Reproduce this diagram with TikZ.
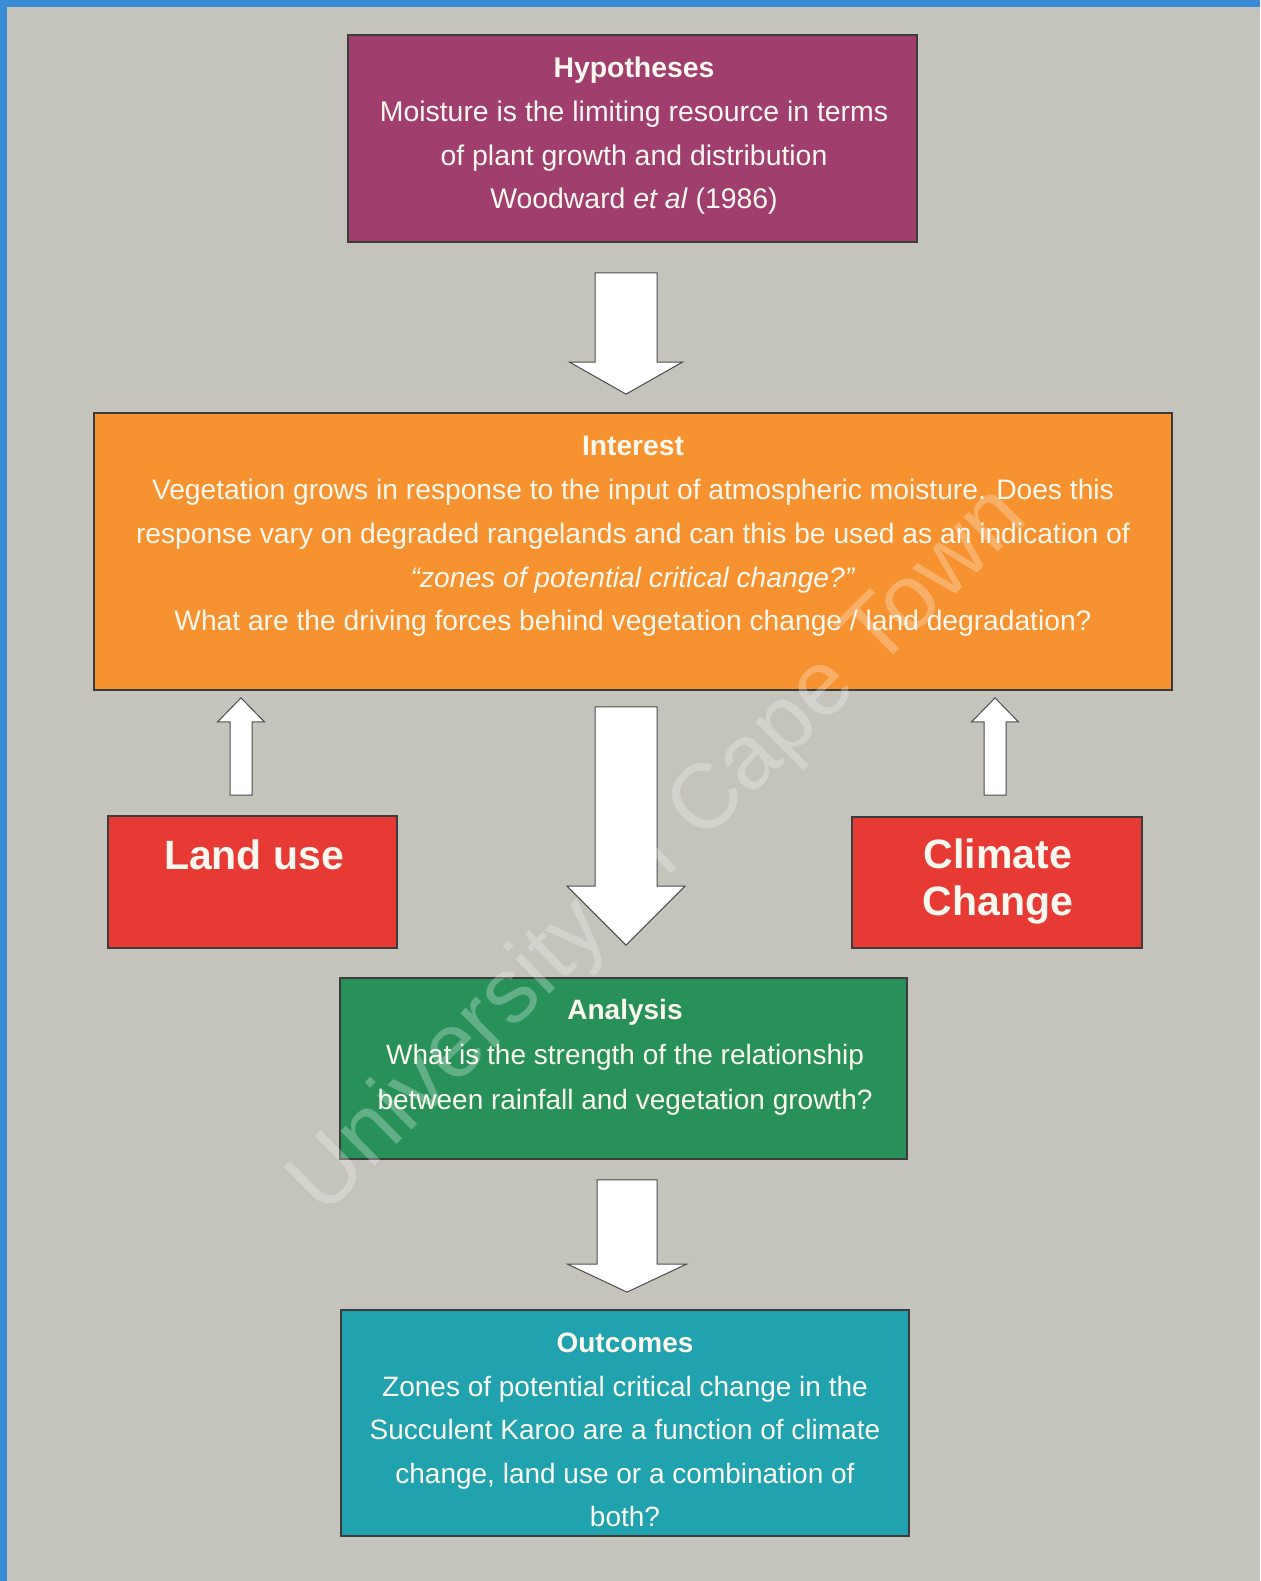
\documentclass[tikz,border=0pt]{standalone}
\usepackage{fontspec}
\setmainfont{Liberation Sans}
\usetikzlibrary{calc}
\definecolor{bg}{RGB}{196,195,188}
\definecolor{bordblue}{RGB}{58,140,215}
\definecolor{hypc}{RGB}{160,62,110}
\definecolor{intc}{RGB}{246,146,48}
\definecolor{redc}{RGB}{232,58,52}
\definecolor{grnc}{RGB}{40,145,90}
\definecolor{tealc}{RGB}{32,163,174}
\definecolor{edge}{RGB}{60,60,60}
\definecolor{txt}{RGB}{252,248,240}
\newcommand\blkarrow[5]{%
  \draw[blk] let \p1=(#1), \p2=(#2) in
    ({\x1-#3*0.5pt},{\y1}) -- ({\x1+#3*0.5pt},{\y1}) -- ({\x1+#3*0.5pt},{\y2+(#5)*0.5pt})
    -- ({\x1+#4*0.5pt},{\y2+(#5)*0.5pt}) -- ({\x1},{\y2}) -- ({\x1-#4*0.5pt},{\y2+(#5)*0.5pt})
    -- ({\x1-#3*0.5pt},{\y2+(#5)*0.5pt}) -- cycle;}
\begin{document}
\begin{tikzpicture}[x=0.5pt,y=-0.5pt,
  box/.style={draw=edge,line width=0.9pt,inner sep=0pt},
  body/.style={text=txt,align=center,inner sep=0pt,font=\fontsize{14}{21.8}\selectfont},
  big/.style={text=txt,align=center,inner sep=0pt,font=\bfseries\fontsize{20.5}{23.5}\selectfont},
  blk/.style={fill=white,draw=gray!60!black,line width=0.5pt,line join=miter}]
\useasboundingbox (0,0) rectangle (1260,1581);
\fill[bg] (0,0) rectangle (1260,1581);
\fill[bordblue] (0,0) rectangle (1260,7);
\fill[bordblue] (0,0) rectangle (7,1581);

% boxes
\node[box,fill=hypc,minimum width=284.5pt,minimum height=103.5pt] (hyp) at (632.5,138.5) {};
\node[box,fill=intc,minimum width=539pt,minimum height=138.5pt] (int) at (633,551.5) {};
\node[box,fill=redc,minimum width=144.5pt,minimum height=66pt] (land) at (252.5,882) {};
\node[box,fill=redc,minimum width=145pt,minimum height=65.5pt] (clim) at (997,882.5) {};
\node[box,fill=grnc,minimum width=283.5pt,minimum height=90.5pt] (ana) at (623.5,1068.5) {};
\node[box,fill=tealc,minimum width=284pt,minimum height=113pt] (out) at (625,1423) {};

% texts
\node[body,font=\fontsize{14.2}{21.8}\selectfont] (hyptxt) at (634,136) {\textbf{Hypotheses}\\Moisture is the limiting resource in terms\\of plant growth and distribution\\Woodward \textit{et al} (1986)};
\node[body,font=\fontsize{14.1}{21.9}\selectfont] (inttxt) at (633,536.5) {\textbf{Interest}\\Vegetation grows in response to the input of atmospheric moisture. Does this\\response vary on degraded rangelands and can this be used as an indication of\\\textit{“zones of potential critical change?”}\\What are the driving forces behind vegetation change / land degradation?};
\node[big] (landtxt) at (254,855) {Land use};
\node[big] (climtxt) at (998,881.5) {Climate\\Change};
\node[body,font=\fontsize{14}{22.6}\selectfont] (anatxt) at (625,1057.5) {\textbf{Analysis}\\What is the strength of the relationship\\between rainfall and vegetation growth?};
\node[body] (outtxt) at (625,1430) {\textbf{Outcomes}\\Zones of potential critical change in the\\Succulent Karoo are a function of climate\\change, land use or a combination of\\both?};

% arrows
\coordinate (a1s) at ($(hyp.south)+(-6.5,30)$);
\coordinate (a1e) at ($(int.north)+(-7,-18)$);
\blkarrow{a1s}{a1e}{31}{56.5}{32}
\coordinate (a2s) at ($(int.south)+(-7,16)$);
\coordinate (a2e) at ($(ana.north)+(2,-32)$);
\blkarrow{a2s}{a2e}{31}{59}{59}
\coordinate (a3s) at ($(ana.south)+(3.5,20)$);
\coordinate (a3e) at ($(out.north)+(2,-17)$);
\blkarrow{a3s}{a3e}{30}{59.5}{28}
\coordinate (a4s) at ($(land.north)+(-11.5,-20)$);
\coordinate (a4e) at ($(int.south)+(-392,7)$);
\blkarrow{a4s}{a4e}{11}{23.5}{-24}
\coordinate (a5s) at ($(clim.north)+(-2,-21)$);
\coordinate (a5e) at ($(int.south)+(362,7)$);
\blkarrow{a5s}{a5e}{11}{23.5}{-24}

% watermark
\node[rotate=44.6,text=white,opacity=0.27,inner sep=0pt,font=\fontsize{46}{46}\selectfont] (wm) at (660,852) {University of Cape Town};
\end{tikzpicture}
\end{document}
